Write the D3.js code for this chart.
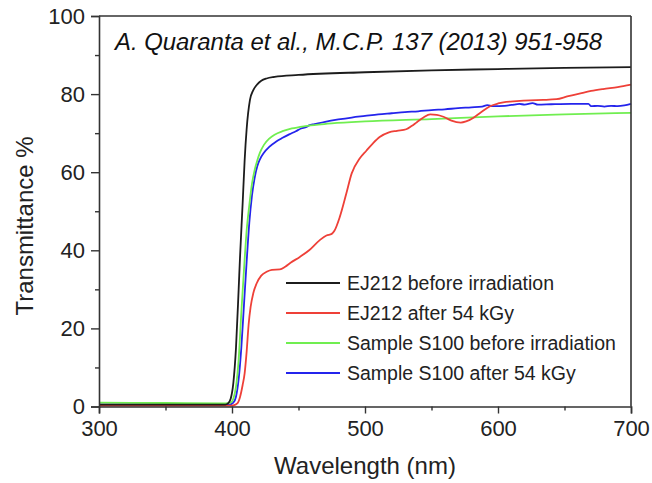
<!DOCTYPE html>
<html>
<head>
<meta charset="utf-8">
<script src="https://cdn.jsdelivr.net/npm/d3@7"></script>
<style>
  html, body { margin: 0; padding: 0; background: #fff; }
  svg { display: block; font-family: "Liberation Sans", Arial, sans-serif; }
</style>
</head>
<body>
<svg id="chart" width="652" height="483"></svg>
<script>
// ---- data ----
const seriesNames = [
  "EJ212 before irradiation",
  "EJ212 after 54 kGy",
  "Sample S100 before irradiation",
  "Sample S100 after 54 kGy"
];
const seriesColors = ["#1c1c1c", "#ee4038", "#70ee50", "#2424ec"];

const ej212Before = [
  [300,0.5],[350,0.5],[395,0.5],[397,0.8],[399,2],[401,6],[403,15],[405,30],[406,38],
  [408,52],[409.5,63],[411,71],[413.5,78.5],[416,81],[419,82.5],[422,83.4],[426,84],
  [432,84.4],[450,84.9],[500,85.6],[550,86.1],[600,86.4],[650,86.7],[700,86.9]
];
const ej212After = [
  [300,0.2],[350,0.2],[398,0.2],[401,0.3],[404,0.8],[406,2.4],[408,5.5],[409.5,8.5],
  [411,14],[412.5,21],[414,25.5],[416,29],[418.5,31.5],[422,33.5],[426,34.5],[430,35],
  [436,35.1],[440,35.8],[444,36.8],[451,38.3],[458,40],[466,42.6],[471,43.8],[475,44.2],
  [477,45],[481,48.5],[486,54.6],[490,59.7],[496,63.5],[501,65.5],[506,67.4],[511,69],
  [518,70.2],[524,70.6],[531,71],[535,71.8],[539,72.8],[544,74],[549,74.8],[554,74.7],
  [559,74.2],[565,73.2],[572,72.7],[576,73],[581,73.8],[587,75.3],[594,76.9],[600,77.6],
  [604,77.9],[614,78.2],[624,78.4],[634,78.5],[644,78.7],[652,79.4],[662,80.2],[670,80.8],
  [679,81.3],[690,81.8],[700,82.4]
];
const s100Before = [
  [300,1.0],[350,0.9],[395,0.8],[399,1],[401,2],[403,5],[405,12],[407,24],[409,35],
  [411,45],[413,51.5],[415,57],[417,60.5],[419,63],[421,65],[424,67],[428,68.6],
  [432,69.6],[438,70.5],[445,71.2],[455,71.8],[465,72.2],[475,72.5],[500,73],
  [550,73.6],[600,74.3],[650,74.8],[700,75.2]
];
const s100After = [
  [300,0.5],[350,0.5],[398,0.5],[401,1],[403,2.5],[405,7],[407,15],[409,26],[411,37],
  [413,47],[415,54],[417,58.5],[419,61.5],[421,63.3],[424,65],[428,66.5],[433,67.8],
  [438,68.8],[443,69.7],[448,70.5],[452,71.2],[456,71.6],[458,72.0],[462,72.3],
  [470,72.9],[480,73.5],[490,74],[500,74.4],[510,74.8],[520,75.1],[530,75.4],[540,75.6],
  [550,75.9],[560,76.1],[570,76.4],[580,76.6],[588,76.8],[592,77.2],[596,76.9],
  [605,77.0],[612,77.3],[616,77.5],[620,77.3],[626,77.7],[630,77.3],[640,77.4],
  [655,77.5],[668,77.5],[670,76.9],[675,77.0],[680,76.8],[685,77.0],[690,76.9],
  [695,77.1],[700,77.5]
];
const allSeries = [ej212Before, ej212After, s100Before, s100After];

const xMajorTicks = [300, 400, 500, 600, 700];
const xMinorTicks = [350, 450, 550, 650];
const yMajorTicks = [0, 20, 40, 60, 80, 100];
const yMinorTicks = [10, 30, 50, 70, 90];

const xTitle = "Wavelength (nm)";
const yTitle = "Transmittance %";
const annotation = "A. Quaranta et al., M.C.P. 137 (2013) 951-958";

// ---- layout ----
const svg = d3.select("#chart");
const plotL = 99, plotR = 631, plotT = 16, plotB = 406.5;
const x = d3.scaleLinear().domain([300, 700]).range([plotL, plotR]);
const y = d3.scaleLinear().domain([0, 100]).range([plotB, plotT]);
const axisColor = "#333";

// curves
const line = d3.line().x(d => x(d[0])).y(d => y(d[1])).curve(d3.curveMonotoneX);
const drawOrder = [3, 2, 1, 0];
svg.append("g").selectAll("path").data(drawOrder).join("path")
  .attr("d", i => line(allSeries[i]))
  .attr("fill", "none")
  .attr("stroke", i => seriesColors[i])
  .attr("stroke-width", 1.8)
  .attr("stroke-linejoin", "round");

// frame: top & right
svg.append("line").attr("x1", plotL).attr("x2", plotR).attr("y1", plotT).attr("y2", plotT)
  .attr("stroke", axisColor).attr("stroke-width", 1.6);
svg.append("line").attr("x1", plotR).attr("x2", plotR).attr("y1", plotT).attr("y2", plotB)
  .attr("stroke", axisColor).attr("stroke-width", 1.6);

// x axis
const xAxis = svg.append("g").attr("transform", `translate(0,${plotB})`)
  .call(d3.axisBottom(x).tickValues(xMajorTicks).tickSize(7).tickPadding(6).tickFormat(d3.format("d")));
svg.append("g").attr("transform", `translate(0,${plotB})`)
  .call(d3.axisBottom(x).tickValues(xMinorTicks).tickSize(4).tickFormat(""))
  .call(g => g.select(".domain").remove());

// y axis
const yAxis = svg.append("g").attr("transform", `translate(${plotL},0)`)
  .call(d3.axisLeft(y).tickValues(yMajorTicks).tickSize(8).tickPadding(6).tickFormat(d3.format("d")));
svg.append("g").attr("transform", `translate(${plotL},0)`)
  .call(d3.axisLeft(y).tickValues(yMinorTicks).tickSize(4).tickFormat(""))
  .call(g => g.select(".domain").remove());

svg.selectAll(".domain").attr("stroke", axisColor).attr("stroke-width", 1.6);
svg.selectAll(".tick line").attr("stroke", axisColor).attr("stroke-width", 1.4);
svg.selectAll(".tick text").attr("fill", "#222").attr("font-size", 22)
  .attr("font-family", '"Liberation Sans", Arial, sans-serif');
xAxis.selectAll(".tick text").attr("dy", "0.75em");

// axis titles
svg.append("text").attr("x", 365).attr("y", 474).attr("text-anchor", "middle")
  .attr("font-size", 24).attr("fill", "#222").text(xTitle);
svg.append("text").attr("transform", "translate(33,226) rotate(-90)").attr("text-anchor", "middle")
  .attr("font-size", 24).attr("fill", "#222").text(yTitle);

// annotation
svg.append("text").attr("x", 115).attr("y", 50).attr("font-size", 23.9)
  .attr("font-style", "italic").attr("fill", "#111").text(annotation);

// legend
const legend = svg.append("g").selectAll("g").data(seriesNames).join("g")
  .attr("transform", (d, i) => `translate(286,${283 + i * 30})`);
legend.append("line").attr("x1", 0).attr("x2", 54).attr("y1", 0).attr("y2", 0)
  .attr("stroke", (d, i) => seriesColors[i]).attr("stroke-width", 1.8);
legend.append("text").attr("x", 61).attr("y", 7).attr("font-size", 19.5)
  .attr("fill", "#222").text(d => d);
</script>
</body>
</html>
